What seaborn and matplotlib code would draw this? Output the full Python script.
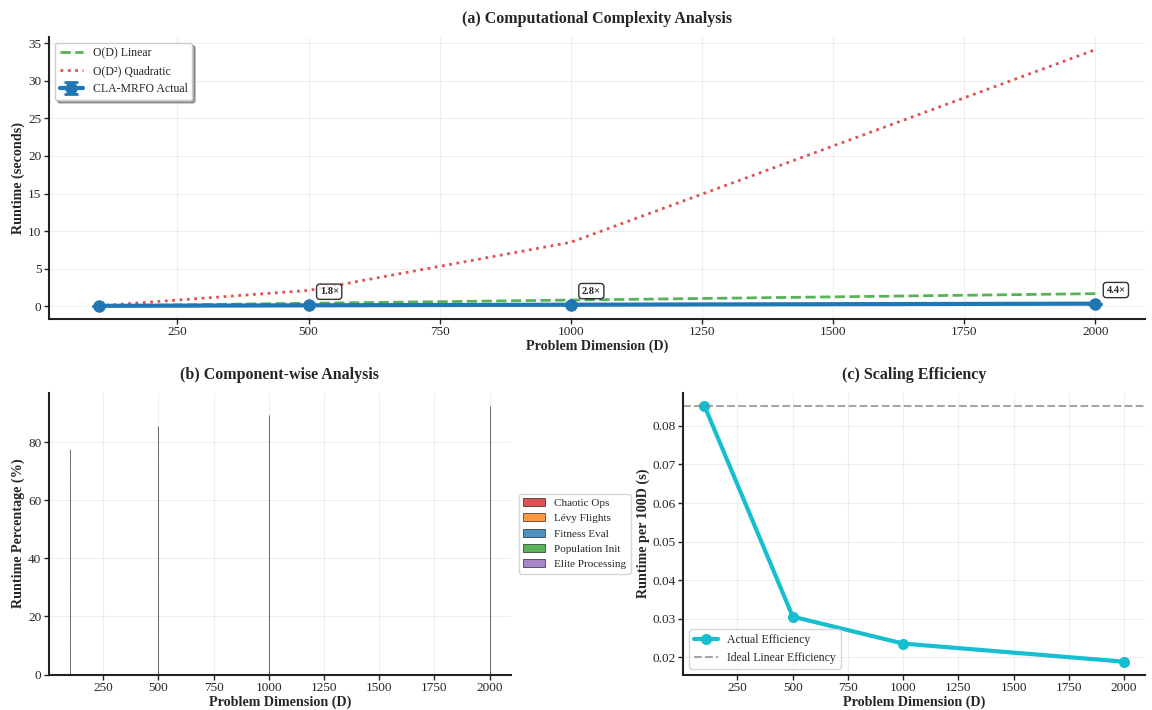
import matplotlib
matplotlib.use("Agg")
import matplotlib.pyplot as plt
import seaborn as sns
import numpy as np
import pandas as pd

# problem sizes and measured runtimes (seconds)
dims = [100, 500, 1000, 2000]
runtime = [0.0853, 0.1525, 0.235, 0.376]
runtime_err = [0.002, 0.003, 0.004, 0.006]
linear_ref = [0.0853, 0.4265, 0.853, 1.706]
quad_ref = [0.0853, 2.1325, 8.53, 34.12]
speed_labels = ["1.8×", "2.8×", "4.4×"]

# component runtime share (%)
components = ["Chaotic Ops", "Lévy Flights", "Fitness Eval", "Population Init", "Elite Processing"]
comp_colors = ["#d62728", "#ff7f0e", "#1f77b4", "#2ca02c", "#9467bd"]
chaotic = [12.0, 13.0, 13.0, 13.0]
levy = [18.0, 19.0, 19.0, 19.0]
fitness = [35.1, 42.5, 47.3, 51.4]
pop_init = [7.5, 6.0, 5.5, 5.0]
elite = [5.0, 5.0, 4.5, 4.0]

# runtime per 100D
efficiency = [0.0853, 0.0305, 0.0235, 0.0188]
ideal_eff = 0.0853

sns.set_style("ticks")
plt.rcParams["font.family"] = ["Liberation Serif", "DejaVu Serif"]
plt.rcParams["mathtext.fontset"] = "stix"

TITLE_FS = 11.5
LABEL_FS = 10.2
TICK_FS = 9.5

fig = plt.figure(figsize=(11.52, 7.10), dpi=100)
gs = fig.add_gridspec(2, 2, left=0.0425, right=0.994, top=0.948, bottom=0.05,
                      hspace=0.263, wspace=0.374)
ax1 = fig.add_subplot(gs[0, :])
ax2 = fig.add_subplot(gs[1, 0])
ax3 = fig.add_subplot(gs[1, 1])


def style_axis(ax, xlabel, ylabel, title):
    ax.set_title(title, fontsize=TITLE_FS, fontweight="bold", pad=10)
    ax.set_xlabel(xlabel, fontsize=LABEL_FS, fontweight="bold", labelpad=1)
    ax.set_ylabel(ylabel, fontsize=LABEL_FS, fontweight="bold", labelpad=2)
    ax.grid(True, alpha=0.3)
    for side in ["top", "right"]:
        ax.spines[side].set_visible(False)
    for side in ["left", "bottom"]:
        ax.spines[side].set_linewidth(1.5)
        ax.spines[side].set_color("#222222")
    ax.tick_params(labelsize=TICK_FS, length=3.5, width=1, pad=2)


# (a) complexity
df_a = pd.DataFrame({"D": dims, "linear": linear_ref, "quad": quad_ref})
sns.lineplot(data=df_a, x="D", y="linear", ax=ax1, color="#2ca02c", linestyle="--",
             linewidth=2, alpha=0.8, label="O(D) Linear")
sns.lineplot(data=df_a, x="D", y="quad", ax=ax1, color="#d62728", linestyle=":",
             linewidth=2, alpha=0.8, label="O(D²) Quadratic")
ax1.errorbar(dims, runtime, yerr=runtime_err, color="#1f77b4", marker="o", markersize=8,
             linewidth=3, capsize=5, capthick=2, label="CLA-MRFO Actual")
for d, r, lab in zip(dims[1:], runtime[1:], speed_labels):
    ax1.annotate(lab, (d, r), xytext=(8, 8), textcoords="offset points",
                 fontsize=7.5, fontweight="bold",
                 bbox=dict(boxstyle="round,pad=0.3", facecolor="white", edgecolor="black", alpha=0.8))
ax1.legend(loc="upper left", fontsize=8.5, frameon=True, fancybox=True, shadow=True)
style_axis(ax1, "Problem Dimension (D)", "Runtime (seconds)", "(a) Computational Complexity Analysis")

# (b) component breakdown
bottom = np.zeros(len(dims))
for name, vals, col in zip(components, [chaotic, levy, fitness, pop_init, elite], comp_colors):
    ax2.bar(dims, vals, bottom=bottom, width=0.8, color=col, alpha=0.8,
            edgecolor="black", linewidth=0.5, label=name)
    bottom += np.array(vals)
ax2.legend(loc="center left", bbox_to_anchor=(1.005, 0.5), fontsize=8)
style_axis(ax2, "Problem Dimension (D)", "Runtime Percentage (%)", "(b) Component-wise Analysis")

# (c) scaling efficiency
df_c = pd.DataFrame({"D": dims, "eff": efficiency})
sns.lineplot(data=df_c, x="D", y="eff", ax=ax3, color="#17becf", marker="o",
             markersize=8, markeredgewidth=0, linewidth=3, label="Actual Efficiency")
ax3.axhline(ideal_eff, color="gray", linestyle="--", alpha=0.7, label="Ideal Linear Efficiency")
ax3.legend(loc="lower left", fontsize=8.5)
style_axis(ax3, "Problem Dimension (D)", "Runtime per 100D (s)", "(c) Scaling Efficiency")

fig.savefig("out.png", dpi=100)
